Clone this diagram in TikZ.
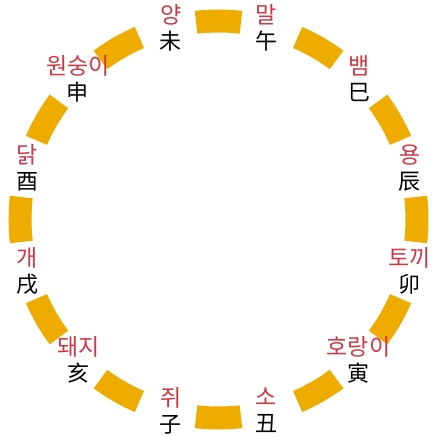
\documentclass[tikz,border=0pt]{standalone}
\usepackage{fontspec}
\newfontfamily\krfont{Noto Sans CJK KR}
\newfontfamily\zhfont{Noto Sans CJK SC}
\definecolor{seggold}{RGB}{238,172,0}
\definecolor{kred}{RGB}{204,56,68}
\newcommand{\kl}[1]{{\krfont\fontsize{23}{26}\selectfont\color{kred}#1}}
\newcommand{\zl}[1]{{\zhfont\fontsize{22}{27}\selectfont #1}}
\begin{document}
\begin{tikzpicture}[x=1pt,y=1pt,
  seg/.style={fill=seggold, draw=none},
  lbl/.style={align=center, inner sep=0pt, font=\fontsize{20}{26}\selectfont}]
\useasboundingbox (-218.5,-216.5) rectangle (216.5,219.5);
\foreach \a in {0,30,...,330}{
  \fill[seg] (\a-6.5:187) arc[start angle=\a-6.5, end angle=\a+6.5, radius=187]
    -- (\a+6.5:210) arc[start angle=\a+6.5, end angle=\a-6.5, radius=210] -- cycle;
}
\node[lbl] (l1) at (76:197) {\kl{말}\\\zl{午}};
\node[lbl] (l2) at (45:199) {\kl{뱀}\\\zl{巳}};
\node[lbl] (l3) at (15:198) {\kl{용}\\\zl{辰}};
\node[lbl] (l4) at (-15:198) {\kl{토끼}\\\zl{卯}};
\node[lbl] (l5) at (-45:198) {\kl{호랑이}\\\zl{寅}};
\node[lbl] (l6) at (-76:197) {\kl{소}\\\zl{丑}};
\node[lbl] (l7) at (-104:197) {\kl{쥐}\\\zl{子}};
\node[lbl] (l8) at (-135:198) {\kl{돼지}\\\zl{亥}};
\node[lbl] (l9) at (195:198) {\kl{개}\\\zl{戌}};
\node[lbl] (l10) at (165:198) {\kl{닭}\\\zl{酉}};
\node[lbl] (l11) at (135:199) {\kl{원숭이}\\\zl{申}};
\node[lbl] (l12) at (104:197) {\kl{양}\\\zl{未}};
\end{tikzpicture}
\end{document}
